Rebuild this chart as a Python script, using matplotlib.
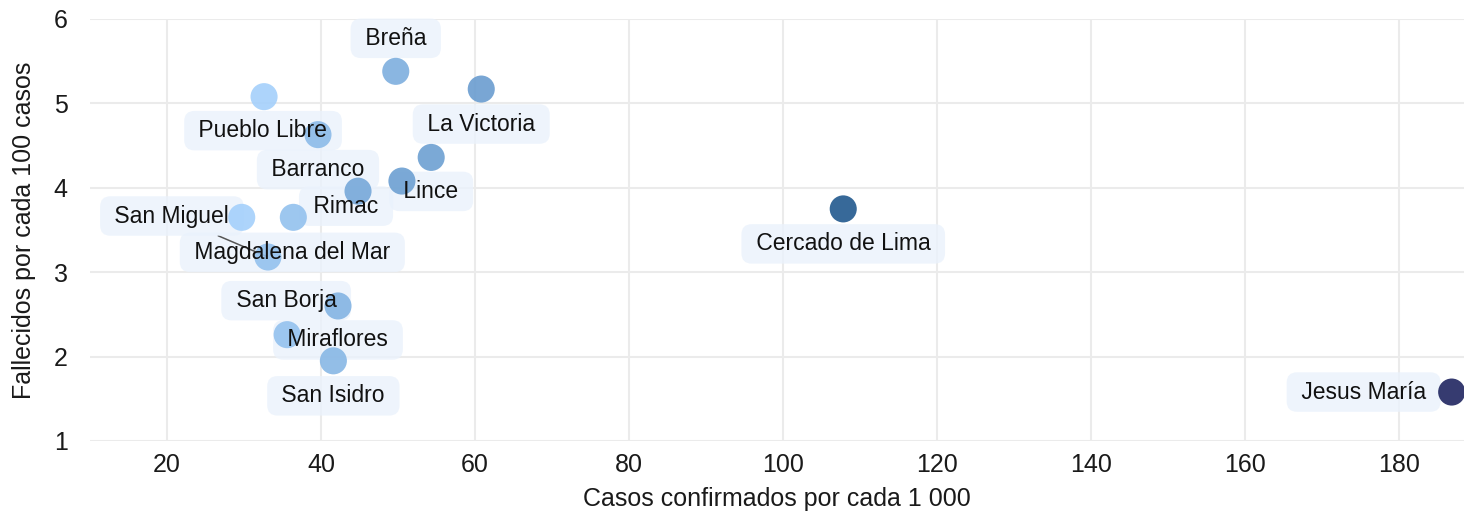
import matplotlib.pyplot as plt
from matplotlib.colors import LinearSegmentedColormap

plt.rcParams['font.family'] = ['Liberation Sans', 'DejaVu Sans']

# distritos de Lima (dos puntos sin etiqueta en el original)
distritos = ["Breña", "La Victoria", "Pueblo Libre", "Barranco", "Lince", "", "Rimac",
             "", "Magdalena del Mar", "San Miguel", "Miraflores", "San Borja",
             "San Isidro", "Cercado de Lima", "Jesus María"]
casos_1000 = [49.7, 60.8, 32.6, 39.6, 54.3, 50.5, 44.8, 29.7, 36.4, 33.1, 42.2, 35.6,
              41.6, 107.8, 186.8]
fallecidos_100 = [5.38, 5.17, 5.08, 4.63, 4.36, 4.08, 3.96, 3.65, 3.65, 3.18, 2.60, 2.26,
                  1.95, 3.75, 1.58]
tono = [0.27, 0.40, 0.0, 0.17, 0.38, 0.38, 0.32, 0.0, 0.12, 0.12, 0.22, 0.12,
        0.20, 0.75, 1.0]

# desplazamiento de cada etiqueta respecto a su punto (pixeles)
offsets = [(0, 33), (0, -35), (-1, -34), (0, -35), (0, -34), None, (-12, -15),
           None, (-1, -35), (-96, 41), (0, -34), (-1, 34), (0, -35), (0, -35), (-88, 0)]
con_linea = "San Miguel"

cmap = LinearSegmentedColormap.from_list(
    "azules", [(0.0, "#a4d0fb"), (0.4, "#6a9dd0"), (0.75, "#215a8f"), (1.0, "#202660")])

fig = plt.figure(figsize=(14.64, 5.15), dpi=100)
ax = fig.add_axes([90 / 1464, 1 - 441 / 515, 1 - 90 / 1464, (441 - 19) / 515])

ax.scatter(casos_1000, fallecidos_100, c=tono, cmap=cmap, vmin=0, vmax=1,
           s=380, alpha=0.9, edgecolors="none", zorder=3, clip_on=False)

for name, x, y, off in zip(distritos, casos_1000, fallecidos_100, offsets):
    if not name:
        continue
    dx, dy = off[0] * 0.72, off[1] * 0.72
    arrow = None
    if name == con_linea:
        arrow = dict(arrowstyle="-", color="#555555", lw=1.1, shrinkA=0, shrinkB=2)
    # caja debajo de los puntos, texto encima
    ax.annotate(" " + name + " ", (x, y), xytext=(dx, dy), textcoords="offset points",
                ha="center", va="center", fontsize=16.5, color="none", zorder=2.5,
                bbox=dict(boxstyle="round,pad=0.36,rounding_size=0.45", fc="#eaf2fc",
                          ec="none", alpha=0.8),
                arrowprops=arrow)
    ax.annotate(" " + name + " ", (x, y), xytext=(dx, dy), textcoords="offset points",
                ha="center", va="center", fontsize=16.5, color="#111111", zorder=4)

ax.set_xlim(10, 188.4)
ax.set_ylim(1, 6)
ax.set_xticks(range(20, 181, 20))
ax.set_yticks(range(1, 7))
ax.grid(True, color="#ebebeb", lw=1.5)
ax.set_axisbelow(True)
for s in ax.spines.values():
    s.set_visible(False)
ax.tick_params(axis="x", length=0, labelsize=18, labelcolor="#1a1a1a", pad=9)
ax.tick_params(axis="y", length=0, labelsize=18, labelcolor="#1a1a1a", pad=16)

ax.set_xlabel("Casos confirmados por cada 1 000", fontsize=18, color="#1a1a1a", labelpad=7)
ax.set_ylabel("Fallecidos por cada 100 casos", fontsize=18, color="#1a1a1a", labelpad=13)

fig.savefig("out.png", dpi=100)
